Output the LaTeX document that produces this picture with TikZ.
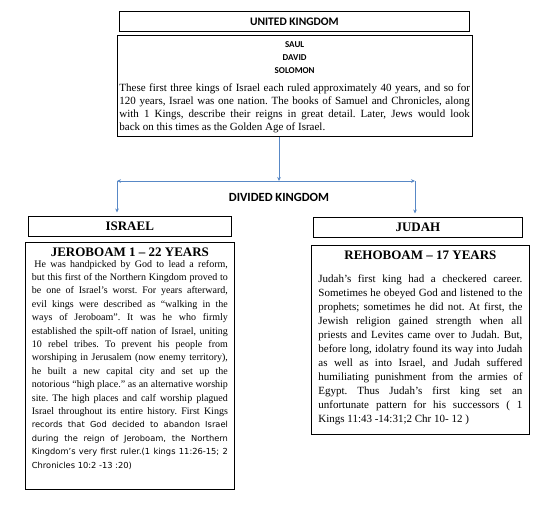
\documentclass[tikz,border=0pt]{standalone}
\usepackage{fontspec}
\setmainfont{Liberation Serif}
\newfontfamily\calibri{Carlito}
\newfontfamily\tahoma{DejaVu Sans}
\usetikzlibrary{arrows.meta,positioning}
\definecolor{linkblue}{RGB}{88,136,198}
\frenchspacing

\begin{document}
\begin{tikzpicture}[x=1pt, y=-1pt,
    frame/.style={rectangle, draw, line width=0.8pt, inner sep=0pt, anchor=north west},
    sanshead/.style={frame, font=\calibri\bfseries\fontsize{11.5}{13}\selectfont},
    kingdom/.style={frame, font=\bfseries\fontsize{13}{15}\selectfont},
    link/.style={draw=linkblue, line width=0.8pt, -{Stealth[length=4pt, width=3.6pt]}}
]
    \useasboundingbox (0,0) rectangle (545,506);
    \fill[white] (0,0) rectangle (545,506);

    % united kingdom
    \node[sanshead, minimum width=350pt, minimum height=19.4pt] (united) at (119,11.2) {UNITED KINGDOM};
    \node[frame, inner xsep=2.5pt] (kings) at (116.5,35.3) {\parbox[c][100.7pt][t]{350.5pt}{%
        \setlength{\parskip}{0pt}\vspace*{5.5pt}%
        {\centering\calibri\bfseries\fontsize{9}{13}\selectfont SAUL\\DAVID\\SOLOMON\par}%
        \vspace{5.5pt}%
        \fontsize{11}{13}\selectfont These first three kings of Israel each ruled approximately 40 years, and so for\linebreak
        120 years, Israel was one nation. The books of Samuel and Chronicles, along\linebreak
        with 1 Kings, describe their reigns in great detail. Later, Jews would look\linebreak
        back on this times as the Golden Age of Israel.}};

    % divided kingdom
    \coordinate (split) at (279,181);
    \coordinate (lsplit) at (117,181);
    \coordinate (rsplit) at (415,181);
    \node[font=\calibri\bfseries\fontsize{12.5}{14}\selectfont, below=9pt of split] (divided) {DIVIDED KINGDOM};

    \node[kingdom, minimum width=202.7pt, minimum height=19.7pt] (israel) at (28,216) {ISRAEL};
    \node[kingdom, minimum width=209pt, minimum height=20.3pt] (judah) at (313,217) {JUDAH};

    \node[frame, inner xsep=6.5pt] (jeroboam) at (25,241.7) {\parbox[c][247.3pt][t]{196pt}{%
        \setlength{\parskip}{0pt}\vspace*{6pt}%
        {\centering\bfseries\fontsize{13}{15}\selectfont JEROBOAM 1 – 22 YEARS\par}%
        \vspace{-3pt}%
        \fontsize{10}{13.4}\selectfont\hspace*{2.5pt}He was handpicked by God to lead a reform,\linebreak
        but this first of the Northern Kingdom proved to\linebreak
        be one of Israel’s worst. For years afterward,\linebreak
        evil kings were described as “walking in the\linebreak
        ways of Jeroboam”. It was he who firmly\linebreak
        established the spilt-off nation of Israel, uniting\linebreak
        10 rebel tribes. To prevent his people from\linebreak
        worshiping in Jerusalem (now enemy territory),\linebreak
        he built a new capital city and set up the\linebreak
        notorious “high place.” as an alternative worship\linebreak
        site. The high places and calf worship plagued\linebreak
        Israel throughout its entire history. First Kings\linebreak
        \tahoma\fontsize{8.3}{13.4}\selectfont records that God decided to abandon Israel\linebreak
        during the reign of Jeroboam, the Northern\linebreak
        Kingdom’s very first ruler.(1 kings 11:26-15; 2\linebreak
        Chronicles 10:2 -13 :20)}};

    \node[frame, inner xsep=7pt] (rehoboam) at (311,245) {\parbox[c][189pt][t]{204pt}{%
        \setlength{\parskip}{0pt}\vspace*{5pt}%
        {\centering\bfseries\fontsize{13}{15}\selectfont REHOBOAM – 17 YEARS\par}%
        \vspace{9.4pt}%
        \fontsize{11}{14}\selectfont Judah’s first king had a checkered career.\linebreak
        Sometimes he obeyed God and listened to the\linebreak
        prophets; sometimes he did not. At first, the\linebreak
        Jewish religion gained strength when all\linebreak
        priests and Levites came over to Judah. But,\linebreak
        before long, idolatry found its way into Judah\linebreak
        as well as into Israel, and Judah suffered\linebreak
        humiliating punishment from the armies of\linebreak
        Egypt. Thus Judah’s first king set an\linebreak
        unfortunate pattern for his successors ( 1\linebreak
        Kings 11:43 -14:31;2 Chr 10- 12 )}};

    \draw[link] (kings.south -| split) -- (split);
    \draw[link] (split) -- (lsplit);
    \draw[link] (split) -- (rsplit);
    \draw[link, shorten >=3.5pt] (lsplit) -- (lsplit |- israel.north);
    \draw[link, shorten >=3.5pt] (rsplit) -- (rsplit |- judah.north);
\end{tikzpicture}
\end{document}
